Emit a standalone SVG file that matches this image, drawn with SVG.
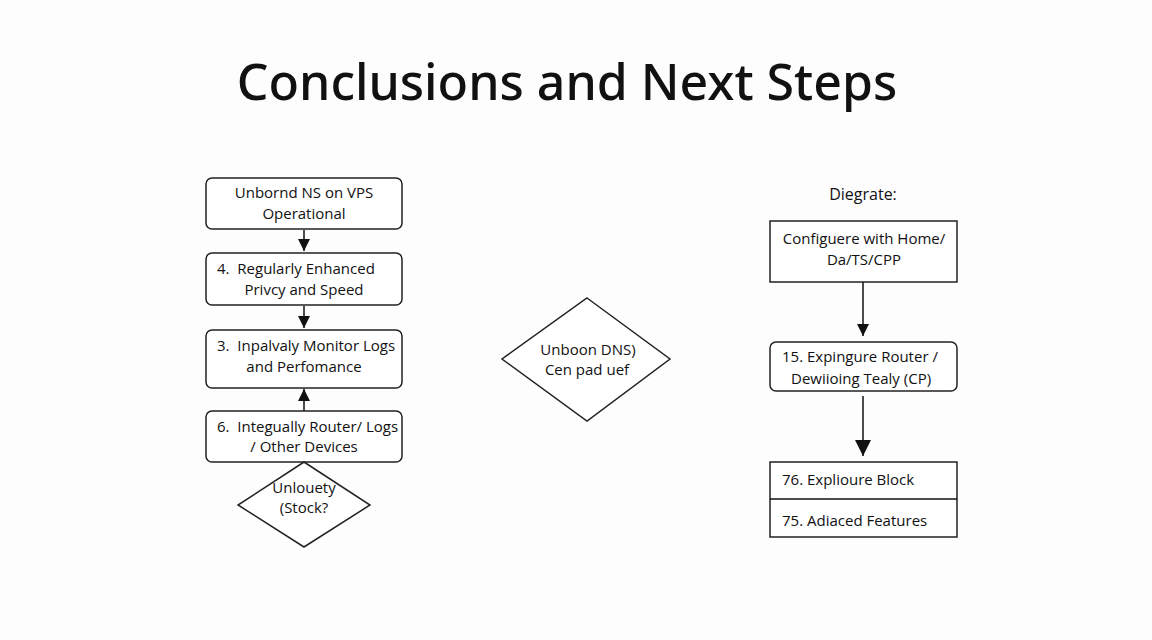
<svg xmlns="http://www.w3.org/2000/svg" width="1152" height="640" viewBox="0 0 1152 640">
<style>
.bx{fill:#fff;stroke:#222;stroke-width:1.5}
.t{font-family:"Open Sans","Noto Sans",sans-serif;font-size:15px;fill:#111;text-anchor:middle}
.tl{font-family:"Open Sans","Noto Sans",sans-serif;font-size:15px;fill:#111}
.ln{stroke:#111;stroke-width:1.5;fill:none}
</style>
<defs>
<marker id="ah" viewBox="0 0 10 10" refX="10" refY="5" markerWidth="12" markerHeight="12" markerUnits="userSpaceOnUse" orient="auto">
<path d="M0,0 L10,5 L0,10 Z" fill="#111"/>
</marker>
<marker id="ahb" viewBox="0 0 10 10" refX="10" refY="5" markerWidth="16" markerHeight="16" markerUnits="userSpaceOnUse" orient="auto">
<path d="M0,0 L10,5 L0,10 Z" fill="#111"/>
</marker>
</defs>
<rect width="1152" height="640" fill="#fdfdfd"/>
<text x="567" y="100" font-family="'Noto Sans','Open Sans',sans-serif" font-weight="500" font-size="50" fill="#111" text-anchor="middle">Conclusions and Next Steps</text>

<g id="connectors">
<line class="ln" x1="304" y1="230" x2="304" y2="251" marker-end="url(#ah)"/>
<line class="ln" x1="304" y1="306" x2="304" y2="328" marker-end="url(#ah)"/>
<line class="ln" x1="304" y1="411" x2="304" y2="389" marker-end="url(#ah)"/>
<line class="ln" x1="863" y1="282" x2="863" y2="336" marker-end="url(#ah)"/>
<line class="ln" x1="863" y1="396" x2="863" y2="456" marker-end="url(#ahb)"/>
</g>

<g id="n1"><rect class="bx" x="206" y="178" width="196" height="51" rx="6"/>
<text class="t" x="304" y="198">Unbornd NS on VPS</text><text class="t" x="304" y="219">Operational</text></g>
<g id="n2"><rect class="bx" x="206" y="253" width="196" height="52" rx="6"/>
<text class="tl" x="217" y="274" xml:space="preserve">4.  Regularly Enhanced</text><text class="t" x="304" y="295">Privcy and Speed</text></g>
<g id="n3"><rect class="bx" x="206" y="330" width="196" height="58" rx="6"/>
<text class="tl" x="217" y="351" xml:space="preserve">3.  Inpalvaly Monitor Logs</text><text class="t" x="304" y="372">and Perfomance</text></g>
<g id="n4"><rect class="bx" x="206" y="411" width="196" height="51" rx="6"/>
<text class="tl" x="217" y="432" xml:space="preserve">6.  Integually Router/ Logs</text><text class="t" x="304" y="452">/ Other Devices</text></g>
<g id="n5"><polygon class="bx" points="304,462 370,505 304,547 238,505"/>
<text class="t" x="304" y="493">Unlouety</text><text class="t" x="304" y="513">(Stock?</text></g>

<g id="n6"><polygon class="bx" points="587,298 670,359 587,421 502,359"/>
<text class="t" x="588" y="355">Unboon DNS)</text><text class="t" x="587" y="375">Cen pad uef</text></g>

<g id="lbl"><text class="t" x="863" y="200" style="font-size:16px">Diegrate:</text></g>
<g id="r1"><rect class="bx" x="770" y="221" width="187" height="61"/>
<text class="t" x="864" y="244">Configuere with Home/</text><text class="t" x="864" y="265">Da/TS/CPP</text></g>
<g id="r2"><rect class="bx" x="770" y="342" width="187" height="49" rx="6"/>
<text class="tl" x="782" y="362">15. Expingure Router /</text><text class="tl" x="791" y="384">Dewiioing Tealy (CP)</text></g>
<g id="r3"><rect class="bx" x="770" y="462" width="187" height="75"/>
<line class="ln" x1="770" y1="499" x2="957" y2="499"/>
<text class="tl" x="782" y="485">76. Explioure Block</text><text class="tl" x="782" y="526">75. Adiaced Features</text></g>
</svg>
